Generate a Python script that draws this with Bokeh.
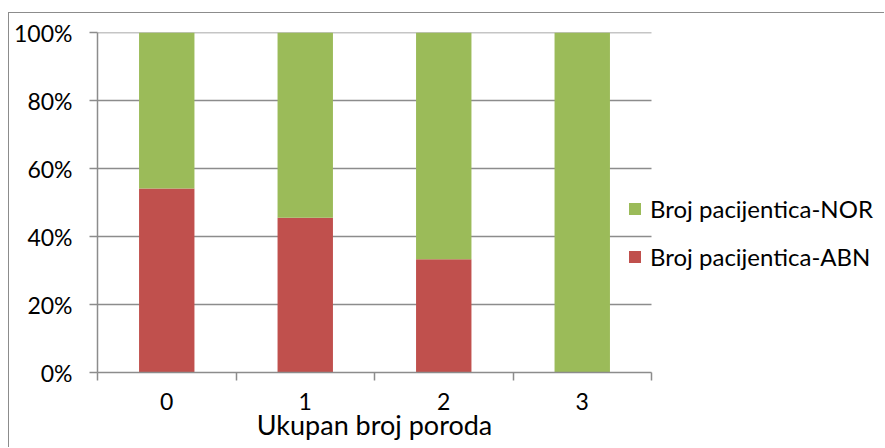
from bokeh.plotting import figure
from bokeh.models import (ColumnDataSource, FixedTicker, PrintfTickFormatter, Legend,
                          LegendItem, Range1d, LinearAxis, AllLabels)
from bokeh.embed import file_html
from bokeh.resources import INLINE

categories = ["0", "1", "2", "3"]
abn = [54.1, 45.5, 33.3, 0.0]
nor = [45.9, 54.5, 66.7, 100.0]
y_ticks = [0, 20, 40, 60, 80, 100]
x_title = "Ukupan broj poroda"

FONT = "Lato"
GRID = "#8c8c8c"
GREEN = "#9BBB59"
RED = "#C0504D"

xs = list(range(len(categories)))
src = ColumnDataSource(dict(x=xs, abn=abn, nor=nor,
                            top_nor=[a + n for a, n in zip(abn, nor)]))

# layout (pixels)
W, H = 876, 435
LEFT, TOP, BOTTOM = 88, 19, 76
CAT_PX = 138.5
frame_w = W - LEFT
x_start = -0.5
x_end = x_start + frame_w / CAT_PX
x_last = len(categories) - 0.5
x_mid = (x_start + x_last) / 2

p = figure(width=W, height=H, output_backend="svg", toolbar_location=None,
           x_range=Range1d(x_start, x_end), y_range=Range1d(0, 100),
           min_border_left=LEFT, min_border_right=0, min_border_top=TOP,
           min_border_bottom=BOTTOM)
p.outline_line_color = None
p.styles = {"margin-left": "8px", "margin-top": "12px",
            "border-left": "1px solid #8c8c8c", "border-top": "1px solid #8c8c8c"}

# horizontal grid lines (only across the category area)
gy = y_ticks[1:]
p.segment(x0=[x_start] * len(gy), x1=[x_last] * len(gy), y0=gy, y1=gy,
          line_color=GRID, line_width=1.5)

r_abn = p.vbar(x="x", bottom=0, top="abn", width=0.4, source=src,
               fill_color=RED, line_color=None)
r_nor = p.vbar(x="x", bottom="abn", top="top_nor", width=0.4, source=src,
               fill_color=GREEN, line_color=None)

# y axis
p.yaxis.ticker = FixedTicker(ticks=y_ticks)
p.yaxis.formatter = PrintfTickFormatter(format="%d%%")
p.yaxis.axis_line_color = GRID
p.yaxis.axis_line_width = 1.5
p.yaxis.major_tick_line_color = GRID
p.yaxis.major_tick_line_width = 1.5
p.yaxis.major_tick_out = 8
p.yaxis.major_tick_in = 0
p.yaxis.minor_tick_line_color = None
p.yaxis.major_label_standoff = 17
p.yaxis.major_label_text_font = FONT
p.yaxis.major_label_text_font_size = "23px"
p.yaxis.major_label_text_color = "#000000"

# x axis
p.xaxis.bounds = (x_start, x_last)
p.xaxis.ticker = FixedTicker(ticks=xs, minor_ticks=[i - 0.5 for i in range(len(categories) + 1)])
p.xaxis.major_label_overrides = {i: c for i, c in enumerate(categories)}
p.xaxis.major_label_policy = AllLabels()
p.xaxis.axis_line_color = GRID
p.xaxis.axis_line_width = 1.5
p.xaxis.major_tick_line_color = None
p.xaxis.major_tick_out = 0
p.xaxis.minor_tick_line_color = GRID
p.xaxis.minor_tick_line_width = 1.5
p.xaxis.minor_tick_out = 8
p.xaxis.minor_tick_in = 0
p.xaxis.major_label_standoff = 12
p.xaxis.major_label_text_font = FONT
p.xaxis.major_label_text_font_size = "23px"
p.xaxis.major_label_text_color = "#000000"

# x axis title, centred under the category area
title_axis = LinearAxis(ticker=FixedTicker(ticks=[x_mid], minor_ticks=[]),
                        major_label_overrides={x_mid: x_title},
                        axis_line_color=None, major_tick_line_color=None,
                        minor_tick_line_color=None, major_tick_out=0, major_tick_in=0,
                        major_label_standoff=-5,
                        major_label_text_font=FONT, major_label_text_font_size="27px",
                        major_label_text_color="#000000")
p.add_layout(title_axis, "below")

p.xgrid.grid_line_color = None
p.ygrid.grid_line_color = None

legend = Legend(items=[LegendItem(label="Broj pacijentica-NOR", renderers=[r_nor]),
                       LegendItem(label="Broj pacijentica-ABN", renderers=[r_abn])],
                location=(530, 101), orientation="vertical",
                glyph_width=15, glyph_height=15, label_standoff=8,
                spacing=19, padding=0, margin=0,
                label_text_font=FONT, label_text_font_size="24px",
                label_text_color="#000000", border_line_color=None,
                background_fill_alpha=0)
p.add_layout(legend, "center")

open("out.html", "w").write(file_html(p, INLINE))
